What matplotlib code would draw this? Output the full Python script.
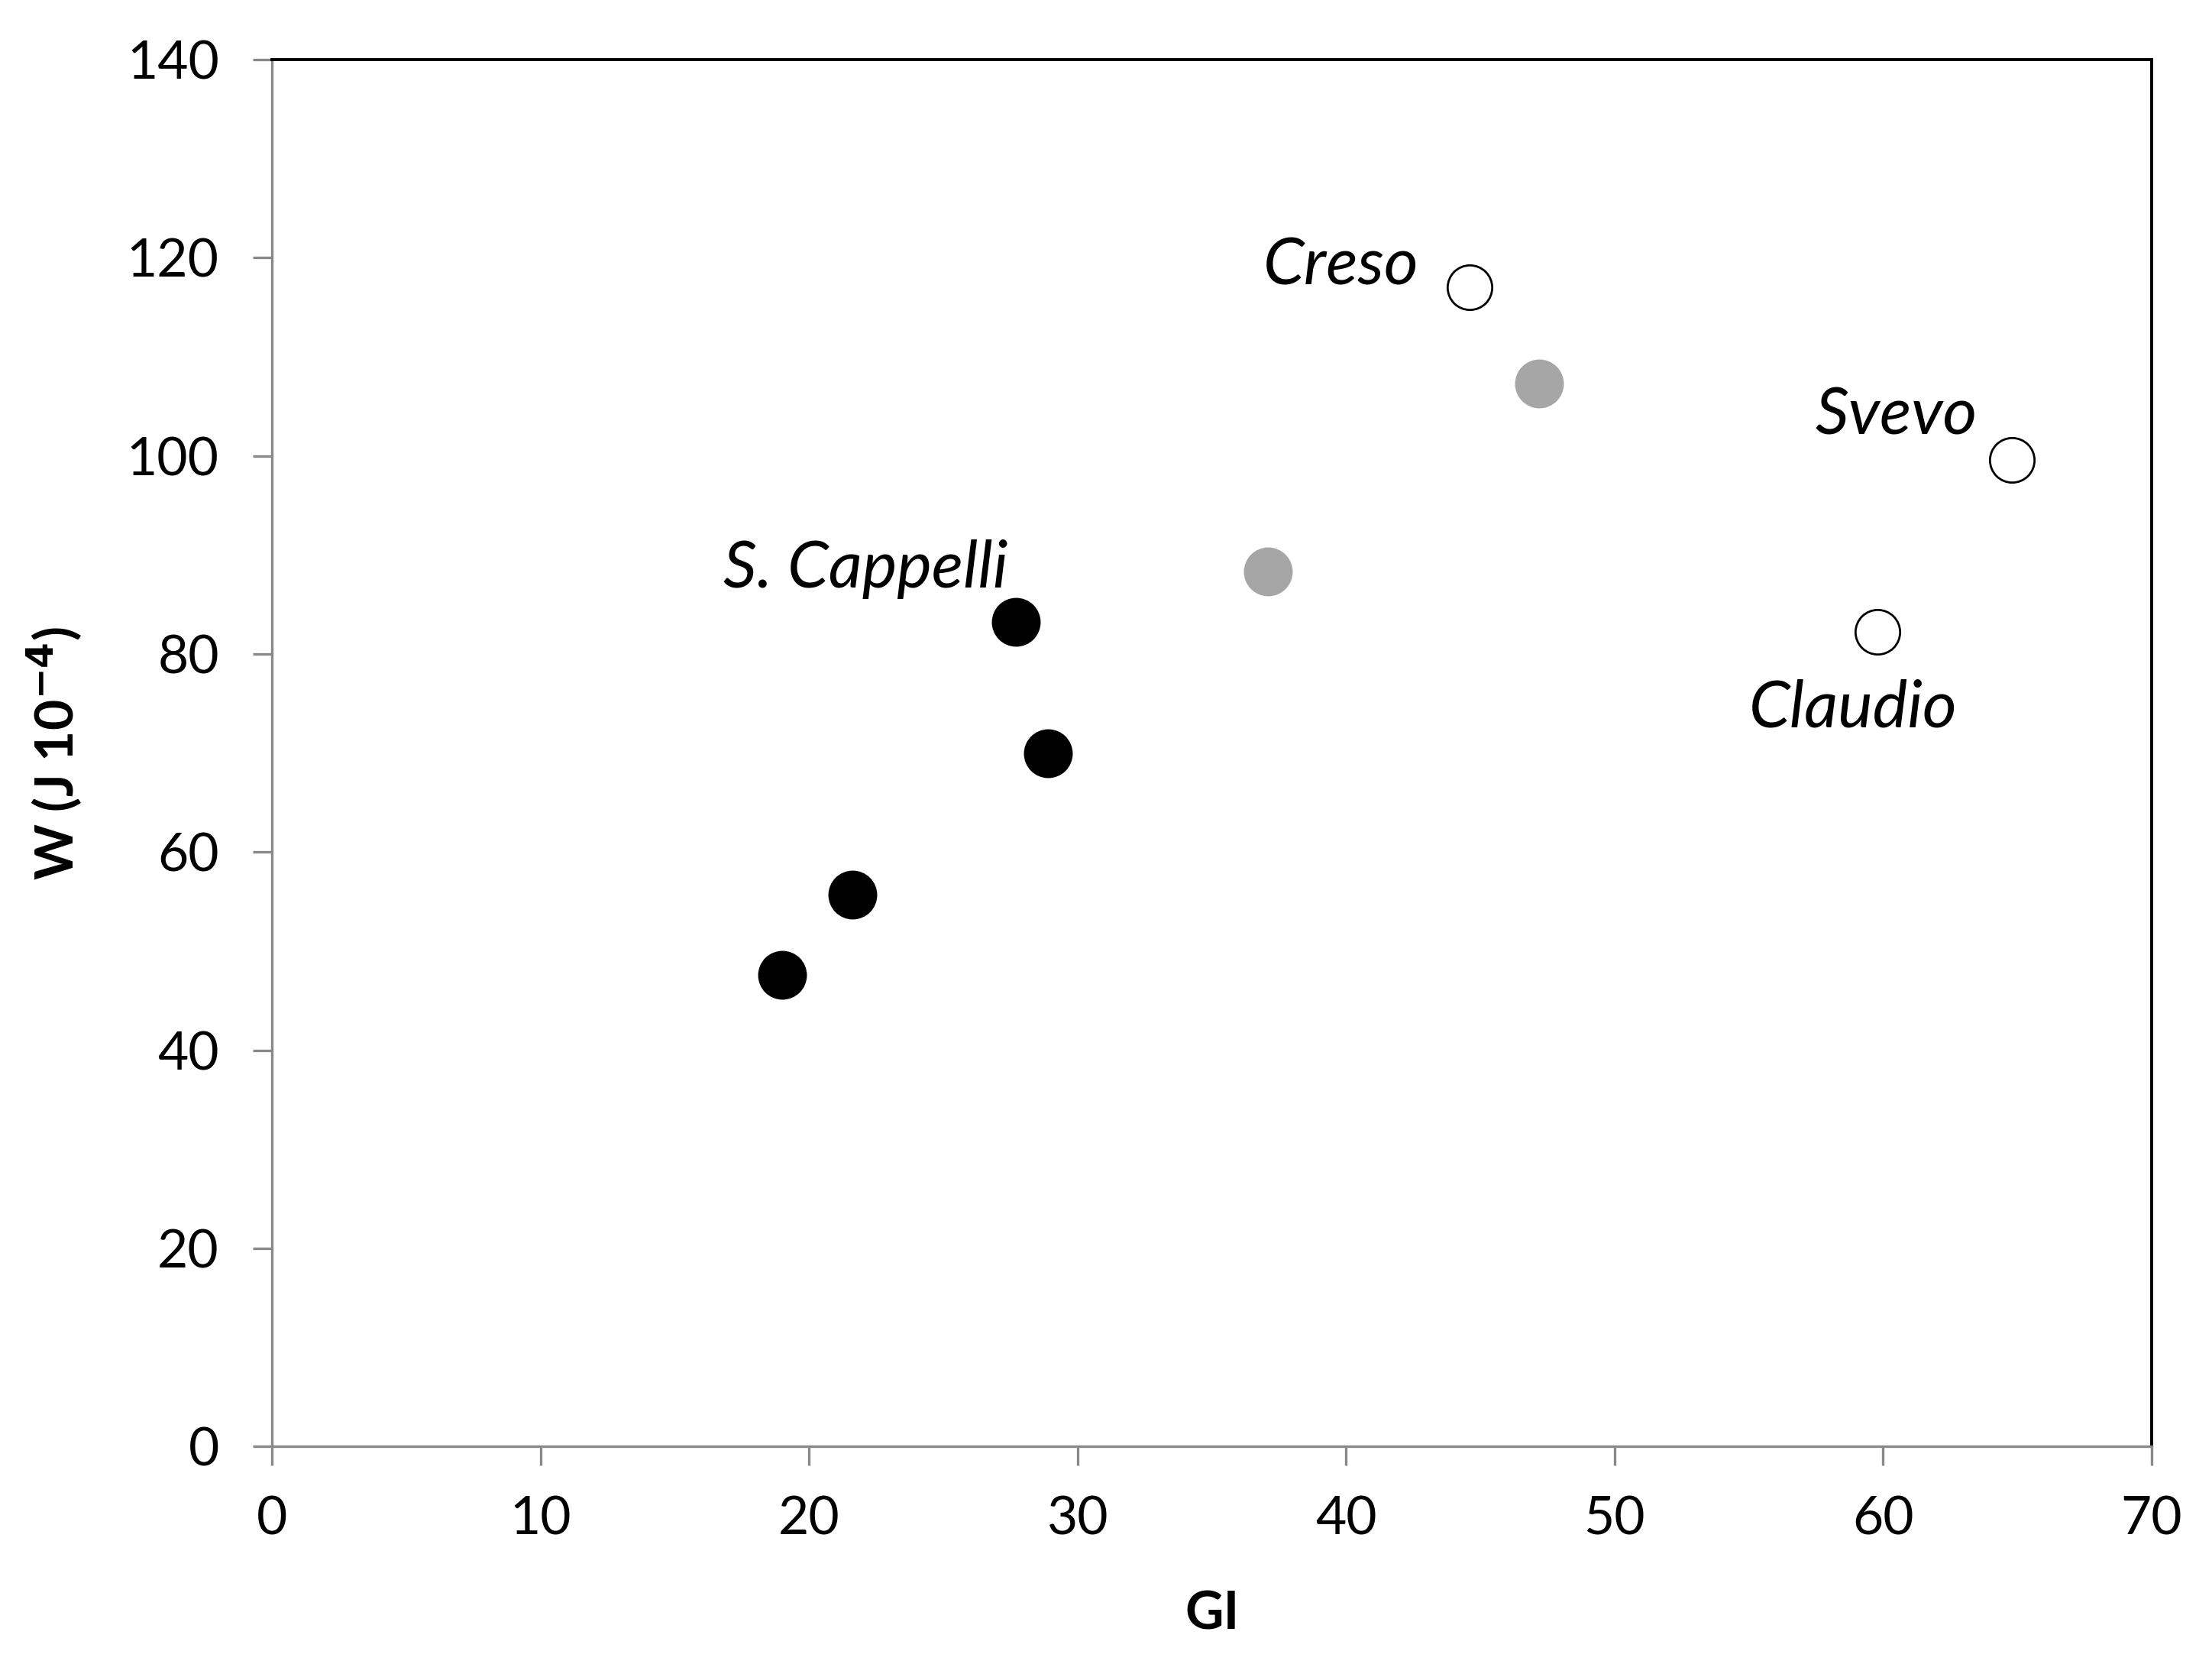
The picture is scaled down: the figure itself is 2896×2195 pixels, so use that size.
import matplotlib
matplotlib.use("Agg")
import matplotlib.pyplot as plt

plt.rcParams['font.family'] = ['Lato', 'DejaVu Sans']

# data
gi_black = [19.0, 21.6, 27.7, 28.9]
w_black = [47.6, 55.7, 83.2, 70.0]
gi_gray = [37.1, 47.2]
w_gray = [88.3, 107.3]
gi_open = [44.6, 64.8, 59.8]
w_open = [117.0, 99.6, 82.2]

labels = ["Creso", "Svevo", "Claudio", "S. Cappelli"]
label_x = [42.7, 63.5, 55.0, 27.4]
label_y = [117.3, 102.2, 72.6, 86.7]
label_ha = ["right", "right", "left", "right"]

fig = plt.figure(figsize=(14.48, 10.975), dpi=200)
ax = fig.add_axes([0.123, 0.1375, 0.8497, 0.827])

ax.plot(gi_black, w_black, 'o', ms=22, color='black', mec='black')
ax.plot(gi_gray, w_gray, 'o', ms=22, color='#a6a6a6', mec='#a6a6a6')
ax.plot(gi_open, w_open, 'o', ms=21, mfc='white', mec='black', mew=1.0)

for t, x, y, ha in zip(labels, label_x, label_y, label_ha):
    ax.text(x, y, t, ha=ha, va='baseline', fontsize=31, style='italic')

ax.set_xlim(0, 70)
ax.set_ylim(0, 140)
ax.set_xticks(range(0, 71, 10))
ax.set_yticks(range(0, 141, 20))

for s in ['left', 'bottom']:
    ax.spines[s].set_color('#898989')
    ax.spines[s].set_linewidth(1.2)
for s in ['top', 'right']:
    ax.spines[s].set_color('black')
    ax.spines[s].set_linewidth(1.4)

ax.tick_params(direction='out', length=9, width=1.2, color='#898989', labelsize=25)
ax.tick_params(axis='y', pad=16)
ax.tick_params(axis='x', pad=14)

ax.set_xlabel("GI", fontsize=25, fontweight='bold', labelpad=22)
ax.set_ylabel("W (J 10$^{\\mathbf{-4}}$)", fontsize=25, fontweight='bold', labelpad=20)

fig.savefig("out.png", dpi=200)
